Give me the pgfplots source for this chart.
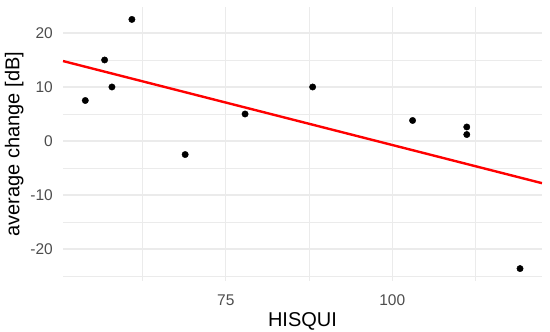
\documentclass[border=0pt]{standalone}
\usepackage{pgfplots}
\pgfplotsset{compat=1.18}
\usepackage{fontspec}
\setmainfont{Liberation Sans}
\definecolor{gridc}{HTML}{EBEBEB}
\definecolor{tickc}{HTML}{4D4D4D}
\begin{document}
\begin{tikzpicture}
\useasboundingbox (-63bp,-51bp) rectangle (487bp,281bp);
\begin{axis}[
  scale only axis,
  width=479bp, height=274bp,
  xmin=50.55, xmax=122.5,
  ymin=-25.9, ymax=24.8,
  axis line style={draw=none},
  tick style={draw=none},
  xtick={75,100},
  minor xtick={62.5,87.5,112.5},
  ytick={-20,-10,0,10,20},
  minor ytick={-25,-15,-5,5,15},
  grid=both,
  major grid style={draw=gridc, line width=1.3bp},
  minor grid style={draw=gridc, line width=0.7bp},
  /pgf/number format/assume math mode=true,
  ticklabel style={font=\fontsize{15.5bp}{18bp}\selectfont, text=tickc, inner sep=0pt},
  xticklabel style={anchor=base, yshift=-24.7bp},
  yticklabel style={anchor=east, xshift=-10bp},
  xlabel={HISQUI},
  ylabel={average change [dB]},
  label style={font=\fontsize{20bp}{24bp}\selectfont, text=black},
  xlabel style={at={(axis description cs:0.5,-0.1653)}, anchor=base},
  ylabel style={at={(axis description cs:-0.1017,0.5)}, anchor=center, rotate=0},
  clip=true,
]
\addplot[only marks, mark=*, mark size=3.2bp, black] coordinates {
  (53.9,7.5) (56.8,15) (57.9,10) (60.9,22.5) (68.9,-2.5) (77.9,5)
  (88.05,10) (103.06,3.8) (111.2,2.6) (111.2,1.2) (119.2,-23.6)
};
\addplot[red, line width=2.4bp] coordinates {(50.55,14.8) (122.5,-7.8)};
\end{axis}
\end{tikzpicture}
\end{document}
